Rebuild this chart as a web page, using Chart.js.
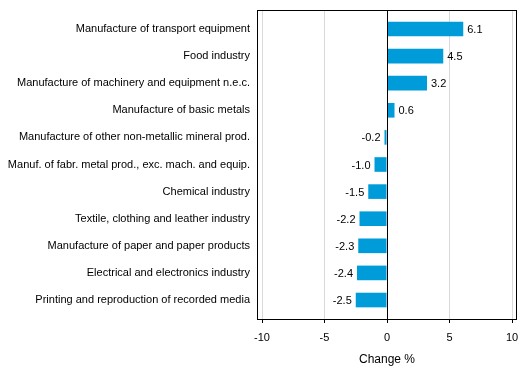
<!DOCTYPE html>
<html><head><meta charset="utf-8">
<script src="https://cdn.jsdelivr.net/npm/chart.js@4"></script>
<style>html,body{margin:0;padding:0;background:#fff}#wrap{width:529px;height:378px}</style>
</head><body><div id="wrap"><canvas id="c" width="529" height="378"></canvas></div>
<script>
const categories = [
  "Manufacture of transport equipment",
  "Food industry",
  "Manufacture of machinery and equipment n.e.c.",
  "Manufacture of basic metals",
  "Manufacture of other non-metallic mineral prod.",
  "Manuf. of fabr. metal prod., exc. mach. and equip.",
  "Chemical industry",
  "Textile, clothing and leather industry",
  "Manufacture of paper and paper products",
  "Electrical and electronics industry",
  "Printing and reproduction of recorded media"
];
const values = [6.1, 4.5, 3.2, 0.6, -0.2, -1.0, -1.5, -2.2, -2.3, -2.4, -2.5];
const xTicks = [-10, -5, 0, 5, 10];
const axisTitle = "Change %";

const FONT = "Arial, 'Liberation Sans', sans-serif";

const boxPlugin = {
  id: 'box',
  afterDatasetsDraw(chart) {
    const {ctx, chartArea: a} = chart;
    ctx.save();
    ctx.strokeStyle = '#000';
    ctx.lineWidth = 1;
    ctx.strokeRect(Math.round(a.left) + 0.5, Math.round(a.top) + 0.5, Math.round(a.right - a.left) - 1, Math.round(a.bottom - a.top));
    const x0 = Math.round(chart.scales.x.getPixelForValue(0)) + 0.5;
    ctx.beginPath(); ctx.moveTo(x0, a.top); ctx.lineTo(x0, a.bottom); ctx.stroke();
    ctx.fillStyle = '#000';
    ctx.font = '11px ' + FONT;
    ctx.textBaseline = 'middle';
    const meta = chart.getDatasetMeta(0);
    meta.data.forEach((bar, i) => {
      const v = values[i];
      const t = v.toFixed(1);
      if (v >= 0) { ctx.textAlign = 'left'; ctx.fillText(t, bar.x + 4, bar.y + 1); }
      else { ctx.textAlign = 'right'; ctx.fillText(t, bar.x - 4, bar.y + 1); }
    });
    ctx.restore();
  }
};

new Chart(document.getElementById('c'), {
  type: 'bar',
  data: {
    datasets: [{ data: values.map((v, i) => ({ x: v, y: i })), backgroundColor: '#009cda', borderWidth: 0,
      barPercentage: 0.54, categoryPercentage: 1.0 }]
  },
  options: {
    indexAxis: 'y',
    responsive: false,
    animation: false,
    layout: { padding: { left: 0, right: 12, top: 10, bottom: 0 } },
    plugins: { legend: { display: false }, tooltip: { enabled: false } },
    scales: {
      x: {
        type: 'linear',
        min: -10.4, max: 10.4,
        afterBuildTicks: (s) => { s.ticks = xTicks.map(v => ({ value: v })); },
        afterFit: (s) => { s.height = 59; s.paddingLeft = 0; s.paddingRight = 0; },
        grid: {
          color: (c) => c.tick && c.tick.value === 0 ? 'rgba(0,0,0,0)' : '#d9d9d9',
          tickColor: '#000', tickLength: 4, drawTicks: true, lineWidth: 1
        },
        border: { display: false },
        ticks: { color: '#000', font: { size: 11, family: FONT }, padding: 8, maxRotation: 0 },
        title: { display: true, text: axisTitle, color: '#000', font: { size: 12, family: FONT }, padding: { top: 6, bottom: 11 } }
      },
      y: {
        type: 'linear',
        reverse: true,
        offset: false,
        min: -0.7, max: categories.length - 0.3,
        afterBuildTicks: (s) => { s.ticks = categories.map((_, i) => ({ value: i })); },
        afterFit: (s) => { s.width = 257; s.paddingTop = 0; s.paddingBottom = 0; },
        grid: { display: false, drawTicks: false },
        border: { display: false },
        ticks: { color: '#000', font: { size: 11, family: FONT }, padding: 7, autoSkip: false,
          callback: (v) => categories[v] }
      }
    }
  },
  plugins: [boxPlugin]
});
</script></body></html>
